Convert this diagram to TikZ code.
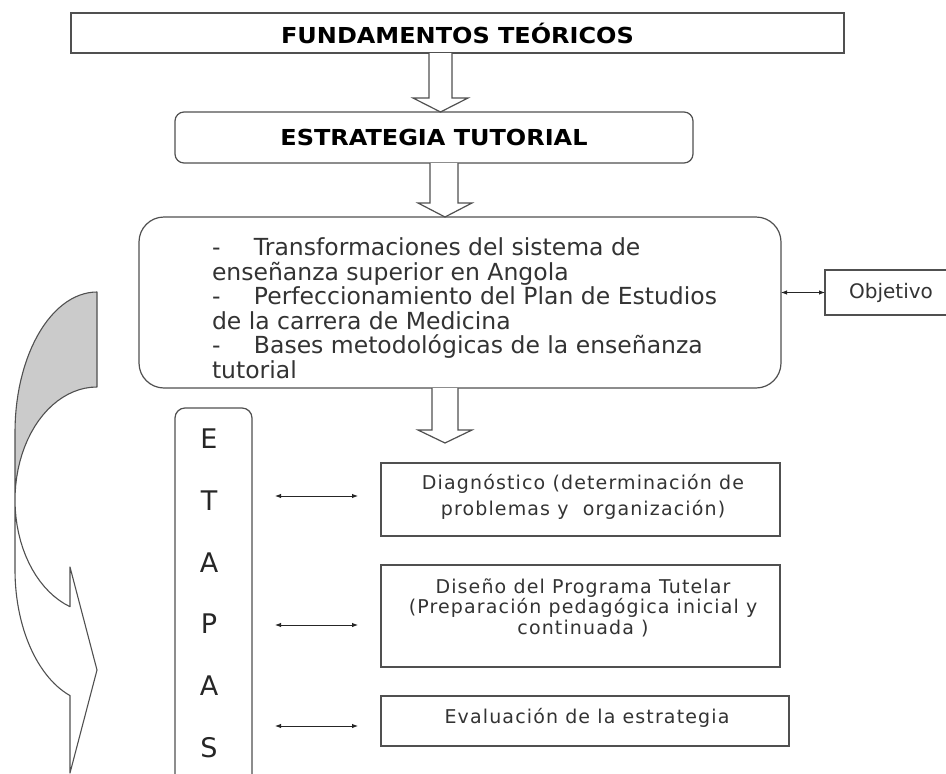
\documentclass[tikz,border=0pt]{standalone}
\usepackage{fontspec}
\setmainfont{DejaVu Sans}
\newfontfamily\titlefont{DejaVu Sans}[FakeStretch=1.09]
\newfontfamily\stagefont{DejaVu Sans}[LetterSpace=6]
\usetikzlibrary{arrows.meta,calc}
\definecolor{edge}{HTML}{505050}
\definecolor{ink}{HTML}{262626}
\definecolor{soft}{HTML}{333333}
\definecolor{greyfill}{HTML}{CBCBCB}
\begin{document}
\begin{tikzpicture}[x=1pt,y=-1pt,
  every node/.style={inner sep=0pt,outer sep=0pt},
  box/.style={draw=edge,line width=1.2pt,fill=white},
  blk/.style={draw=edge,line width=1.2pt,fill=white,line join=miter},
  dbl/.style={{Latex[length=6pt,width=4.5pt]}-{Latex[length=6pt,width=4.5pt]},line width=0.9pt,draw=ink},
  titletext/.style={font=\titlefont\bfseries\fontsize{22}{26}\selectfont,text=black},
  bodytext/.style={font=\fontsize{23.5}{24.5}\selectfont,text=soft},
  stagetext/.style={font=\stagefont\fontsize{19}{20.5}\selectfont,text=soft},
  lettertext/.style={font=\fontsize{27}{30}\selectfont,text=ink,anchor=base}]
\useasboundingbox (0,0) rectangle (946,774);

% curved arrow on the left
\fill[greyfill] plot[domain=270:180,samples=30] ({97+82*cos(\x)},{432+140*sin(\x)})
  -- (15,500) -- plot[domain=180:270,samples=30] ({97+82*cos(\x)},{500+113*sin(\x)}) -- cycle;
\draw[edge,line width=1.1pt,line join=round]
  plot[domain=270:180,samples=30] ({97+82*cos(\x)},{432+140*sin(\x)})
  -- (15,570)
  -- plot[domain=180:109.2,samples=30] ({97+82*cos(\x)},{570+133*sin(\x)})
  -- (70,773) -- (97,670) -- (70,567)
  -- plot[domain=109.2:270,samples=40] ({97+82*cos(\x)},{500+113*sin(\x)})
  -- cycle;

% boxes
\node[box,minimum width=773pt,minimum height=40pt,titletext] (fund) at (457.5,33) {FUNDAMENTOS TEÓRICOS};
\node[box,rounded corners=9pt,minimum width=518pt,minimum height=51pt,titletext] (estr) at (434,137.5) {ESTRATEGIA TUTORIAL};
\node[box,rounded corners=25pt,minimum width=642pt,minimum height=171pt] (bigbox) at (460,302.5) {};
\node[bodytext,anchor=north west,align=left] (bigtxt) at (212,238)
  {\makebox[42pt][l]{-}Transformaciones del sistema de\\
   enseñanza superior en Angola\\
   \makebox[42pt][l]{-}Perfeccionamiento del Plan de Estudios\\
   de la carrera de Medicina\\
   \makebox[42pt][l]{-}Bases metodológicas de la enseñanza\\
   tutorial};
\node[box,minimum width=125pt,minimum height=45pt] (objbox) at (887.5,292.5) {};
\node[font=\fontsize{20}{24}\selectfont,text=soft] (objtxt) at (891,292.5) {Objetivo};
\draw[dbl] (bigbox.east |- objbox.west) -- (objbox.west);

% block arrows
\draw[blk] (429,53) -- (429,98) -- (413,98) -- (440.5,112) -- (468,98) -- (452,98) -- (452,53);
\draw[blk] (430,163) -- (430,203) -- (418,203) -- (445,217) -- (472,203) -- (458,203) -- (458,163);
\draw[blk] (432,388) -- (432,430) -- (418,430) -- (445,443) -- (472,430) -- (458,430) -- (458,388);

% ETAPAS column
\node[box,rounded corners=10pt,minimum width=77pt,minimum height=382pt] (etapas) at (213.5,599) {};
\node[lettertext] (lE) at (209,448) {E};
\node[lettertext] (lT) at (209,510) {T};
\node[lettertext] (lA1) at (209,572) {A};
\node[lettertext] (lP) at (209,633) {P};
\node[lettertext] (lA2) at (209,695) {A};
\node[lettertext] (lS) at (209,757) {S};

% stage boxes
\node[box,minimum width=399pt,minimum height=73pt] (diag) at (580.5,499.5) {};
\node[box,minimum width=399pt,minimum height=102pt] (dise) at (580.5,616) {};
\node[box,minimum width=408pt,minimum height=50pt] (eval) at (585,721) {};
\node[stagetext,align=center,font=\stagefont\fontsize{19}{26}\selectfont] (diagt) at (583,497)
  {Diagnóstico (determinación de\\problemas y\ \ organización)};
\node[stagetext,align=center] (diset) at (583,607.5)
  {Diseño del Programa Tutelar\\(Preparación pedagógica inicial y\\continuada )};
\node[stagetext] (evalt) at (587,718) {Evaluación de la estrategia};

% stage arrows
\coordinate (s1l) at (275,496); \coordinate (s1r) at (358,496);
\coordinate (s2l) at (275,625); \coordinate (s2r) at (358,625);
\coordinate (s3l) at (275,726); \coordinate (s3r) at (358,726);
\draw[dbl] (s1l) -- (s1r);
\draw[dbl] (s2l) -- (s2r);
\draw[dbl] (s3l) -- (s3r);
\end{tikzpicture}
\end{document}
